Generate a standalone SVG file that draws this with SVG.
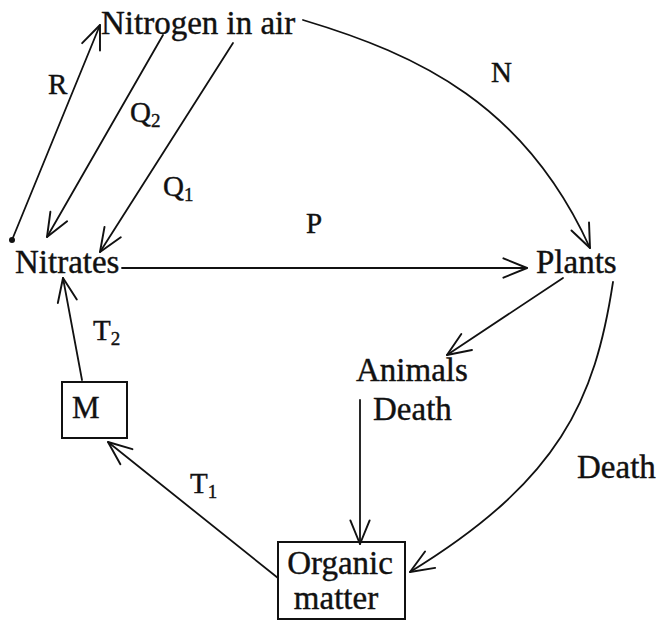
<svg xmlns="http://www.w3.org/2000/svg" width="657" height="622" viewBox="0 0 657 622">
<style>
.t{font-family:"Liberation Serif","Times New Roman",serif;font-size:33px;fill:#111;stroke:#111;stroke-width:0.4}
.l{font-family:"Liberation Serif","Times New Roman",serif;font-size:29px;fill:#111;stroke:#111;stroke-width:0.4}
.s{font-size:19px}
.c{fill:none;stroke:#111;stroke-width:1.8;stroke-linecap:round}
.b{fill:none;stroke:#111;stroke-width:2}
</style>
<defs>
<marker id="ah" markerUnits="userSpaceOnUse" markerWidth="30" markerHeight="30" viewBox="-24 -12 28 24" refX="0" refY="0" orient="auto">
<path d="M-22,-9 L0,0 L-22,9" fill="none" stroke="#111" stroke-width="1.8" stroke-linecap="round" stroke-linejoin="round"/>
</marker>
</defs>
<rect width="657" height="622" fill="#fff"/>
<g id="connectors">
<line class="c" x1="12" y1="240" x2="100" y2="25" marker-end="url(#ah)"/>
<circle cx="12" cy="240" r="3" fill="#111"/>
<line class="c" x1="163" y1="35" x2="47" y2="237" marker-end="url(#ah)"/>
<line class="c" x1="233" y1="43" x2="100" y2="252" marker-end="url(#ah)"/>
<line class="c" x1="122" y1="268" x2="527" y2="268" marker-end="url(#ah)"/>
<path class="c" d="M303,20 C420,55 525,105 590,248" marker-end="url(#ah)"/>
<line class="c" x1="563" y1="278" x2="447" y2="355" marker-end="url(#ah)"/>
<line class="c" x1="360" y1="400" x2="360" y2="544" marker-end="url(#ah)"/>
<path class="c" d="M613,282 C595,400 560,480 410,572" marker-end="url(#ah)"/>
<line class="c" x1="278" y1="578" x2="108" y2="442" marker-end="url(#ah)"/>
<line class="c" x1="82" y1="380" x2="63" y2="278" marker-end="url(#ah)"/>
<text class="l" x="48" y="94">R</text>
<text class="l" x="130" y="122">Q<tspan class="s" dy="5">2</tspan></text>
<text class="l" x="163" y="196">Q<tspan class="s" dy="5">1</tspan></text>
<text class="l" x="306" y="233">P</text>
<text class="l" x="491" y="82">N</text>
<text class="l" x="93" y="340">T<tspan class="s" dy="5">2</tspan></text>
<text class="l" x="190" y="493">T<tspan class="s" dy="5">1</tspan></text>
</g>
<g id="nitrogen"><text class="t" x="101" y="34">Nitrogen in air</text></g>
<g id="nitrates"><text class="t" x="15" y="273">Nitrates</text></g>
<g id="plants"><text class="t" x="536" y="273">Plants</text></g>
<g id="animals"><text class="t" x="356" y="381">Animals</text><text class="t" x="373" y="420">Death</text></g>
<g id="death"><text class="t" x="577" y="478">Death</text></g>
<g id="m"><rect class="b" x="62" y="382" width="65" height="56"/><text class="t" x="72" y="418" style="font-size:31px">M</text></g>
<g id="organic"><rect class="b" x="278" y="542" width="127" height="77"/><text class="t" x="340" y="574" text-anchor="middle">Organic</text><text class="t" x="336" y="609" text-anchor="middle">matter</text></g>
</svg>
